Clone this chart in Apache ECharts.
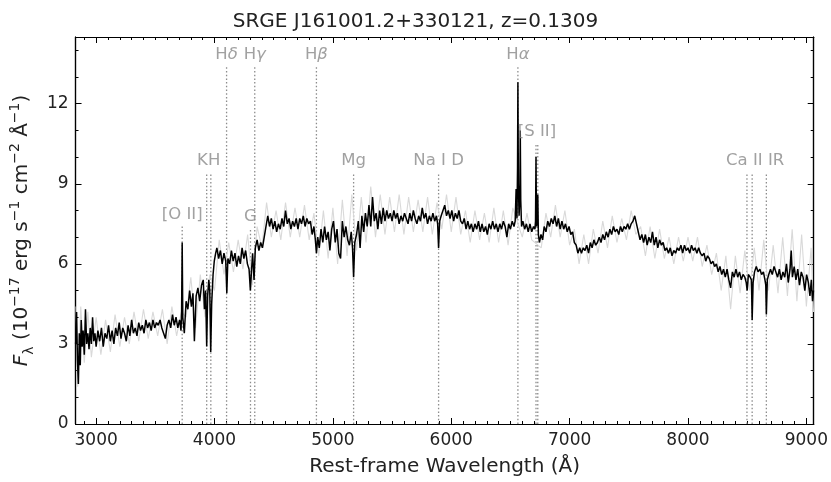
<!DOCTYPE html>
<html><head><meta charset="utf-8">
<script src="https://cdn.jsdelivr.net/npm/echarts@6/dist/echarts.min.js"></script>
<style>html,body{margin:0;padding:0;background:#fff}#c{width:831px;height:482px}</style>
</head><body><div id="c"></div>
<script>
const titleText = 'SRGE J161001.2+330121, z=0.1309';
const xName = 'Rest-frame Wavelength (Å)';
const yName = '{i|F}{sub|λ} (10{sup|−17} erg s{sup|−1} cm{sup|−2} Å{sup|−1})';
const xMin = 2826, xMax = 9062, yMin = 0, yMax = 14.5;

// smoothed spectrum [wavelength, flux]
const spectrum = [
[2827,3.0],[2835,4.2],[2842,2.4],[2850,1.5],[2858,3.4],[2866,2.2],[2874,3.9],[2882,2.9],[2890,3.5],[2900,2.6],
[2910,4.3],[2920,3.0],[2930,3.4],[2940,2.8],[2950,3.6],[2960,3.0],[2970,4.0],[2980,3.1],[2990,3.4],[3000,2.9],
[3015,3.5],[3030,3.1],[3045,3.6],[3060,2.9],[3075,3.4],[3090,3.2],[3105,3.7],[3120,3.1],[3135,3.5],[3150,3.0],
[3165,3.6],[3180,3.3],[3195,3.8],[3210,3.2],[3225,3.6],[3240,3.4],[3255,3.1],[3270,3.7],[3285,3.3],[3300,3.9],
[3315,3.4],[3330,3.6],[3345,3.3],[3360,3.8],[3375,3.5],[3390,3.7],[3405,3.4],[3420,3.9],[3435,3.6],[3450,3.8],
[3465,3.5],[3480,3.9],[3495,3.6],[3510,3.8],[3525,3.7],[3540,3.9],[3555,3.6],[3570,3.4],[3585,3.2],[3600,3.7],
[3615,3.9],[3630,3.6],[3645,4.1],[3660,3.7],[3675,4.0],[3690,3.6],[3705,3.9],[3717,3.5],[3722,4.2],[3727,6.8],
[3732,4.0],[3745,3.4],[3760,4.6],[3775,4.3],[3790,5.0],[3805,4.4],[3818,4.9],[3830,3.1],[3845,4.8],[3860,5.1],
[3875,4.6],[3890,5.2],[3905,5.4],[3915,4.3],[3925,5.0],[3934,2.9],[3942,4.8],[3952,5.4],[3960,5.0],[3968,2.7],
[3976,4.5],[3988,5.6],[3998,6.1],[4010,6.4],[4020,6.6],[4035,6.2],[4050,6.5],[4065,6.0],[4080,6.4],[4095,6.1],
[4104,4.9],[4113,6.2],[4128,6.0],[4143,6.5],[4158,6.1],[4173,6.4],[4188,5.9],[4203,6.3],[4218,6.0],[4233,6.6],
[4248,6.2],[4263,6.5],[4278,6.0],[4292,5.8],[4303,5.0],[4312,5.7],[4322,6.4],[4334,5.4],[4345,6.6],[4360,6.9],
[4375,6.5],[4390,6.8],[4405,6.6],[4420,7.0],[4435,7.4],[4450,7.8],[4465,7.4],[4480,7.7],[4495,7.3],[4510,7.6],
[4525,7.2],[4540,7.5],[4555,7.3],[4570,7.7],[4585,7.4],[4600,8.0],[4615,7.5],[4630,7.7],[4645,7.3],[4660,7.6],
[4675,7.4],[4690,7.7],[4705,7.3],[4720,7.7],[4735,7.5],[4750,7.8],[4765,7.4],[4780,7.7],[4795,7.5],[4810,7.6],
[4825,7.1],[4840,7.4],[4852,6.9],[4861,6.4],[4872,7.0],[4885,6.6],[4900,7.3],[4915,6.8],[4930,7.4],[4945,6.9],
[4960,7.2],[4975,6.5],[4990,7.3],[5005,7.6],[5020,6.8],[5035,7.3],[5050,6.4],[5065,6.2],[5080,7.6],[5095,7.0],
[5110,7.4],[5125,6.9],[5140,6.7],[5155,7.2],[5166,6.6],[5175,5.5],[5185,6.8],[5200,7.1],[5215,7.6],[5230,6.6],
[5245,7.8],[5260,7.2],[5275,7.9],[5290,7.4],[5305,8.2],[5320,7.4],[5335,8.5],[5350,7.6],[5365,7.9],[5380,7.3],
[5395,8.0],[5410,7.5],[5425,8.1],[5440,7.6],[5455,8.0],[5470,7.7],[5485,7.9],[5500,7.6],[5515,8.0],[5530,7.7],
[5545,7.9],[5560,7.5],[5575,7.8],[5590,7.6],[5605,7.9],[5620,7.7],[5635,7.5],[5650,7.9],[5665,7.6],[5680,8.0],
[5695,7.7],[5710,7.5],[5725,7.8],[5740,7.6],[5755,8.1],[5770,7.7],[5785,7.9],[5800,7.5],[5815,7.8],[5830,7.6],
[5845,7.9],[5860,7.6],[5875,7.8],[5885,7.5],[5893,6.6],[5902,7.6],[5915,7.8],[5930,8.0],[5945,8.2],[5960,7.8],
[5975,8.0],[5990,7.7],[6005,8.0],[6020,7.6],[6035,7.9],[6050,7.7],[6065,8.0],[6080,7.6],[6095,7.5],[6110,7.7],
[6125,7.3],[6140,7.6],[6155,7.3],[6170,7.5],[6185,7.2],[6200,7.5],[6215,7.3],[6230,7.6],[6245,7.2],[6260,7.5],
[6275,7.2],[6290,7.4],[6305,7.1],[6320,7.5],[6335,7.3],[6350,7.6],[6365,7.3],[6380,7.5],[6395,7.2],[6410,7.5],
[6425,7.3],[6440,7.6],[6455,7.4],[6470,7.0],[6485,7.5],[6500,7.3],[6515,7.6],[6530,7.4],[6540,7.6],[6548,8.8],
[6555,7.7],[6560,9.6],[6563,12.8],[6567,9.0],[6573,7.8],[6580,8.6],[6583,11.0],[6587,8.4],[6594,7.4],[6605,7.6],
[6620,7.3],[6635,7.5],[6650,7.2],[6665,7.5],[6680,7.2],[6695,7.4],[6707,7.3],[6712,7.6],[6716,10.0],[6720,7.4],
[6727,7.6],[6731,8.6],[6736,7.1],[6745,6.8],[6758,7.1],[6772,6.9],[6785,7.4],[6800,7.2],[6815,7.6],[6830,7.4],
[6845,7.7],[6860,7.5],[6875,7.8],[6890,7.4],[6905,7.7],[6920,7.3],[6935,7.6],[6950,7.3],[6965,7.5],[6980,7.2],
[6995,7.4],[7010,7.1],[7025,7.2],[7040,6.8],[7055,6.7],[7070,6.4],[7085,6.6],[7100,6.4],[7115,6.6],[7130,6.5],
[7145,6.7],[7160,6.4],[7175,6.8],[7190,6.6],[7205,6.9],[7220,6.7],[7235,6.8],[7250,7.0],[7265,6.8],[7280,7.1],
[7295,6.9],[7310,7.2],[7325,7.0],[7340,7.3],[7355,7.1],[7370,7.4],[7385,7.2],[7400,7.3],[7415,7.1],[7430,7.4],
[7445,7.2],[7460,7.4],[7475,7.3],[7490,7.5],[7505,7.3],[7520,7.5],[7535,7.6],[7550,7.8],[7565,7.5],[7580,7.2],
[7595,6.9],[7610,7.1],[7625,6.8],[7640,7.1],[7655,6.7],[7670,7.0],[7685,6.8],[7700,7.2],[7715,6.7],[7730,7.0],
[7745,6.6],[7760,6.9],[7775,6.7],[7790,6.8],[7805,6.5],[7820,6.6],[7835,6.4],[7850,6.6],[7865,6.3],[7880,6.5],
[7895,6.4],[7910,6.6],[7925,6.5],[7940,6.7],[7955,6.4],[7970,6.7],[7985,6.5],[8000,6.6],[8015,6.4],[8030,6.7],
[8045,6.5],[8060,6.6],[8075,6.4],[8090,6.6],[8105,6.4],[8120,6.3],[8135,6.4],[8150,6.1],[8165,6.3],[8180,6.2],
[8195,6.0],[8210,6.1],[8225,5.9],[8240,6.0],[8255,5.7],[8270,5.9],[8285,5.6],[8300,5.8],[8315,5.5],[8330,5.8],
[8345,5.4],[8360,5.1],[8375,5.7],[8390,5.5],[8405,5.8],[8420,5.5],[8435,5.7],[8450,5.4],[8465,5.6],[8480,5.5],
[8492,5.3],[8500,5.0],[8510,5.6],[8525,5.5],[8536,5.4],[8542,3.9],[8550,5.3],[8562,5.7],[8577,5.9],[8592,5.7],
[8607,5.8],[8622,5.6],[8637,5.7],[8650,5.4],[8657,5.2],[8662,4.1],[8670,5.4],[8682,5.6],[8697,5.8],[8712,5.6],
[8727,5.9],[8742,5.7],[8757,5.5],[8772,5.8],[8787,5.4],[8802,5.7],[8817,5.5],[8832,6.0],[8847,5.3],[8862,5.8],
[8872,6.5],[8882,5.5],[8897,5.9],[8912,5.4],[8927,5.8],[8942,5.2],[8957,5.7],[8972,5.5],[8987,5.0],[9002,5.6],
[9017,5.3],[9030,4.8],[9042,5.4],[9052,4.6],[9060,5.0]
];

// raw (unsmoothed) spectrum drawn in light grey behind
const rawSpectrum = [
[2830,4.4],[2845,1.4],[2870,4.4],[2900,2.3],[2930,4.2],[2960,2.5],[3000,4.0],[3040,2.6],[3080,3.9],[3120,2.7],
[3160,4.1],[3200,2.9],[3240,4.0],[3280,3.0],[3320,4.2],[3360,3.1],[3400,4.3],[3440,3.2],[3480,4.2],[3520,3.3],
[3560,4.3],[3600,3.0],[3640,4.4],[3680,3.3],[3720,4.2],[3760,4.0],[3800,5.5],[3840,3.6],[3880,5.6],[3920,4.0],
[3960,5.6],[4000,5.0],[4040,6.9],[4080,5.6],[4120,6.8],[4160,5.7],[4200,6.9],[4240,5.8],[4280,7.1],[4320,5.2],
[4360,7.4],[4400,6.6],[4440,8.3],[4480,7.0],[4520,8.0],[4560,6.9],[4600,8.3],[4640,7.0],[4680,8.1],[4720,7.0],
[4760,8.2],[4800,6.9],[4840,7.9],[4880,6.3],[4920,8.0],[4960,6.2],[5000,8.1],[5040,6.0],[5080,8.4],[5120,6.3],
[5160,8.6],[5200,6.5],[5240,8.5],[5280,6.8],[5320,8.9],[5360,7.0],[5400,8.6],[5440,7.1],[5480,8.5],[5520,7.2],
[5560,8.6],[5600,7.1],[5640,8.5],[5680,7.2],[5720,8.4],[5760,7.2],[5800,8.5],[5840,7.1],[5880,8.3],[5920,7.3],
[5960,8.6],[6000,7.2],[6040,8.5],[6080,7.1],[6120,8.0],[6160,6.8],[6200,8.0],[6240,6.9],[6280,7.9],[6320,6.8],
[6360,8.1],[6400,6.8],[6440,8.0],[6480,6.7],[6520,8.1],[6600,7.0],[6640,7.9],[6680,6.9],[6760,6.6],[6800,7.9],
[6840,7.0],[6880,8.2],[6920,7.0],[6960,8.0],[7000,6.7],[7040,7.3],[7080,6.0],[7120,7.1],[7160,6.0],[7200,7.3],
[7240,6.4],[7280,7.6],[7320,6.6],[7360,7.8],[7400,6.8],[7440,7.7],[7480,6.9],[7520,8.0],[7560,7.1],[7600,7.4],
[7640,6.3],[7680,7.4],[7720,6.2],[7760,7.3],[7800,6.2],[7840,7.0],[7880,6.0],[7920,7.0],[7960,6.1],[8000,7.0],
[8040,6.1],[8080,7.0],[8120,5.9],[8160,6.7],[8200,5.6],[8240,6.4],[8280,5.0],[8320,6.3],[8360,4.3],[8400,6.3],
[8440,4.9],[8480,6.5],[8520,5.0],[8560,6.6],[8600,5.0],[8640,6.9],[8680,5.0],[8720,6.7],[8760,4.9],[8800,7.0],
[8840,4.8],[8880,7.3],[8920,4.6],[8960,7.1],[9000,4.4],[9040,6.6],[9060,4.2]
];

// marked spectral lines (rest wavelength, top of dotted line)
const lineWaves = [3727, 3934, 3969, 4102, 4304, 4340, 4861, 5175, 5893, 6563, 6716, 6731, 8498, 8542, 8662];
const lineTops  = [7.4,  9.4,  9.4,  13.4, 7.3,  13.4, 13.4, 9.4,  9.4,  13.4, 10.5, 10.5, 9.4,  9.4,  9.4];
// labels for the marked lines
const labelNames = ['[O II]', 'KH', 'H{g|δ}', 'G', 'H{g|γ}', 'H{g|β}', 'Mg', 'Na I D', 'H{g|α}', '[S II]', 'Ca II IR'];
const labelWaves = [3727, 3951, 4102, 4304, 4340, 4861, 5175, 5893, 6563, 6724, 8567];
const labelTops  = [7.4,  9.4,  13.4, 7.3,  13.4, 13.4, 9.4,  9.4,  13.4, 10.5, 9.4];

const FONT = 'DejaVu Sans';
const chart = echarts.init(document.getElementById('c'));

function xAx(position, step, len, labels, extra) {
  return Object.assign({
    type: 'value', position: position, min: xMin, max: xMax,
    minInterval: step, maxInterval: step,
    axisLine: {show: true, onZero: false, lineStyle: {color: '#000', width: 1.2}},
    axisTick: {show: true, inside: true, length: len, lineStyle: {color: '#000', width: 1}},
    axisLabel: {show: labels, margin: 8, fontSize: 17, color: '#222', fontFamily: FONT,
      formatter: function (v) { return v % 1000 === 0 ? String(v) : ''; }},
    splitLine: {show: false}
  }, extra || {});
}
function yAx(position, step, len, labels, extra) {
  return Object.assign({
    type: 'value', position: position, min: yMin, max: yMax,
    minInterval: step, maxInterval: step,
    axisLine: {show: true, onZero: false, lineStyle: {color: '#000', width: 1.2}},
    axisTick: {show: true, inside: true, length: len, lineStyle: {color: '#000', width: 1}},
    axisLabel: {show: labels, margin: 7, fontSize: 17, color: '#222', fontFamily: FONT,
      formatter: function (v) { return v % 3 === 0 ? String(v) : ''; }},
    splitLine: {show: false}
  }, extra || {});
}

const markerSeries = lineWaves.map(function (w, i) {
  return {
    type: 'line', xAxisIndex: 0, yAxisIndex: 0, data: [[w, 0], [w, lineTops[i]]],
    symbol: 'none', silent: true, z: 1,
    lineStyle: {color: '#8c8c8c', width: 1.3, type: [1.5, 2.2]}
  };
});

chart.setOption({
  animation: false,
  backgroundColor: '#fff',
  textStyle: {fontFamily: FONT},
  title: {text: titleText, left: 'center', top: 7,
    textStyle: {fontSize: 20, fontWeight: 'normal', color: '#222', fontFamily: FONT}},
  grid: {left: 75, right: 14, top: 37, bottom: 57, containLabel: false},
  xAxis: [
    xAx('bottom', 1000, 6, true, {name: xName, nameLocation: 'middle', nameGap: 33,
      nameTextStyle: {fontSize: 20, color: '#222', fontFamily: FONT}}),
    xAx('bottom', 100, 3, false),
    xAx('top', 1000, 6, false),
    xAx('top', 100, 3, false)
  ],
  yAxis: [
    yAx('left', 3, 6, true, {name: yName, nameLocation: 'middle', nameGap: 36, nameRotate: 90,
      nameTextStyle: {fontSize: 20, color: '#222', fontFamily: FONT, lineHeight: 28,
        rich: {
          i: {fontSize: 20, fontStyle: 'italic', color: '#222', fontFamily: FONT, lineHeight: 28},
          sub: {fontSize: 14, color: '#222', fontFamily: FONT, verticalAlign: 'bottom', lineHeight: 18},
          sup: {fontSize: 14, color: '#222', fontFamily: FONT, verticalAlign: 'top', lineHeight: 16}
        }}}),
    yAx('left', 1, 3, false),
    yAx('right', 3, 6, false),
    yAx('right', 1, 3, false)
  ],
  series: [
    {type: 'line', name: 'raw', xAxisIndex: 0, yAxisIndex: 0, data: rawSpectrum, symbol: 'none',
      silent: true, z: 2, lineStyle: {color: '#d9d9d9', width: 1.1}}
  ].concat(markerSeries).concat([
    {type: 'line', name: 'flux', xAxisIndex: 0, yAxisIndex: 0, data: spectrum, symbol: 'none',
      silent: true, z: 3, lineStyle: {color: '#000', width: 1.5}},
    {type: 'scatter', xAxisIndex: 0, yAxisIndex: 0, silent: true, z: 4,
      data: labelWaves.map(function (w, i) { return [w, labelTops[i]]; }),
      symbolSize: 1, itemStyle: {color: 'rgba(0,0,0,0)'},
      label: {show: true, position: 'top', distance: 3, fontSize: 16.5, color: '#8a8a8a', fontFamily: FONT,
        formatter: function (p) { return labelNames[p.dataIndex]; },
        rich: {g: {fontSize: 16.5, fontStyle: 'italic', color: '#8a8a8a', fontFamily: FONT}}}}
  ])
});
</script>
</body></html>
